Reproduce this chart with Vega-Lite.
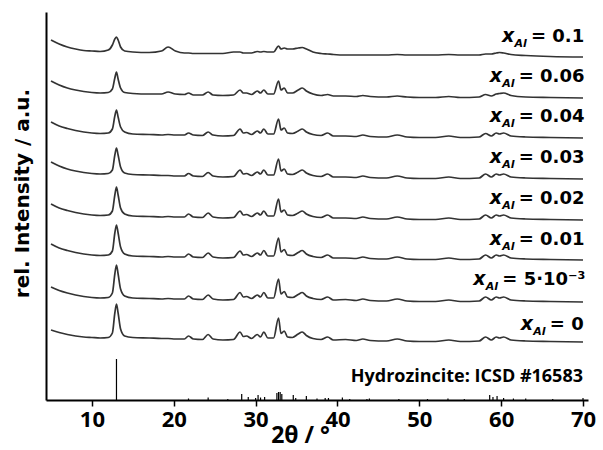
{
  "$schema": "https://vega.github.io/schema/vega-lite/v6.json",
  "width": 542,
  "height": 388,
  "autosize": "none",
  "padding": {"left": 46, "top": 12, "right": 15, "bottom": 50},
  "background": "white",
  "config": {"view": {"stroke": null}, "font": "DejaVu Sans"},
  "layer": [
    {
      "data": {"values": [
        {"x":5,"a":360,"b":319,"c":278,"d":238,"e":196,"f":156,"g":113,"h":70},
        {"x":6,"a":356,"b":315,"c":274,"d":234,"e":192,"f":152,"g":109.5,"h":67.5},
        {"x":7,"a":353,"b":312,"c":271.5,"d":231,"e":189.5,"f":149.5,"g":107,"h":65.5},
        {"x":8,"a":351,"b":310,"c":269.5,"d":229,"e":187.5,"f":147.5,"g":105,"h":64},
        {"x":9,"a":349.5,"b":308.5,"c":268,"d":227.5,"e":186,"f":146,"g":103.5,"h":63},
        {"x":10,"a":349,"b":307.5,"c":267,"d":226.5,"e":185,"f":145,"g":102.5,"h":62.5},
        {"x":11,"a":348.5,"b":307,"c":266.5,"d":226,"e":184.5,"f":144.5,"g":102,"h":62},
        {"x":12,"a":350,"b":307.5,"c":267,"d":226.5,"e":185,"f":145,"g":102.5,"h":62.5},
        {"x":12.5,"a":355,"b":311,"c":271,"d":230,"e":189,"f":149,"g":107,"h":67},
        {"x":12.8,"a":361,"b":322,"c":284,"d":245,"e":205,"f":167,"g":126,"h":87},
        {"x":13.0,"a":363,"b":328,"c":290,"d":252,"e":213,"f":175,"g":135,"h":96},
        {"x":13.2,"a":360,"b":321,"c":283,"d":245,"e":205,"f":167,"g":126,"h":87},
        {"x":13.5,"a":353,"b":312,"c":273,"d":233,"e":192,"f":153,"g":111,"h":71},
        {"x":14,"a":349,"b":307.5,"c":268,"d":227,"e":186,"f":146,"g":104,"h":64},
        {"x":15,"a":348,"b":306.5,"c":266,"d":225.5,"e":184,"f":144,"g":102,"h":62.5},
        {"x":17,"a":347.5,"b":306,"c":265.5,"d":225,"e":183.5,"f":143.5,"g":101.5,"h":62},
        {"x":18.5,"a":349,"b":306,"c":265,"d":224.5,"e":183,"f":143,"g":101,"h":61.5},
        {"x":19.3,"a":353,"b":308,"c":265.5,"d":224.5,"e":183.5,"f":143.5,"g":101.5,"h":61.5},
        {"x":20.2,"a":349,"b":306,"c":265,"d":224,"e":183,"f":143,"g":101,"h":61},
        {"x":21.3,"a":347,"b":305.5,"c":265,"d":224,"e":183,"f":143,"g":101,"h":61},
        {"x":21.8,"a":347,"b":307,"c":267,"d":226.5,"e":186,"f":146,"g":104,"h":64},
        {"x":22.4,"a":346.5,"b":305,"c":265,"d":224,"e":183,"f":143,"g":101,"h":61},
        {"x":23.5,"a":346.5,"b":305,"c":264.5,"d":223.5,"e":182.5,"f":142.5,"g":100.5,"h":60.5},
        {"x":24.2,"a":346.5,"b":308,"c":268,"d":227.5,"e":187,"f":147,"g":105,"h":65.5},
        {"x":24.8,"a":346.5,"b":305,"c":265,"d":224,"e":183,"f":143,"g":101,"h":61},
        {"x":26,"a":346.5,"b":304.5,"c":264,"d":223,"e":182,"f":142,"g":100,"h":60},
        {"x":27.3,"a":348,"b":305,"c":264.5,"d":223.5,"e":182.5,"f":142.5,"g":100.5,"h":60.5},
        {"x":28.1,"a":348,"b":310,"c":271,"d":230,"e":189,"f":149,"g":107.5,"h":68},
        {"x":28.5,"a":347,"b":307,"c":267,"d":226,"e":185,"f":145,"g":103,"h":63.5},
        {"x":28.9,"a":347,"b":307,"c":267.5,"d":226.5,"e":185.5,"f":145.5,"g":103.5,"h":64},
        {"x":29.5,"a":347,"b":305.5,"c":265.5,"d":224.5,"e":183.5,"f":143.5,"g":101.5,"h":61.5},
        {"x":30.2,"a":348.5,"b":309,"c":269,"d":228,"e":187,"f":147,"g":105,"h":65.5},
        {"x":30.6,"a":348,"b":307,"c":267,"d":226,"e":185,"f":145,"g":103,"h":63},
        {"x":31.0,"a":348.5,"b":310,"c":271,"d":230,"e":189,"f":149.5,"g":107.5,"h":68},
        {"x":31.5,"a":348,"b":306,"c":266,"d":225,"e":184,"f":144,"g":102,"h":62},
        {"x":32.2,"a":348,"b":306,"c":266,"d":225,"e":184,"f":144,"g":102,"h":62},
        {"x":32.8,"a":354,"b":319,"c":281,"d":241,"e":201,"f":162,"g":121,"h":82},
        {"x":33.1,"a":351,"b":310,"c":270,"d":229,"e":188,"f":148,"g":106,"h":66.5},
        {"x":33.5,"a":352,"b":312,"c":272,"d":231,"e":190,"f":150.5,"g":108.5,"h":69},
        {"x":33.9,"a":351,"b":307,"c":267,"d":226,"e":185,"f":145,"g":103,"h":63},
        {"x":34.5,"a":351,"b":307,"c":266.5,"d":225.5,"e":184.5,"f":144.5,"g":102.5,"h":62.5},
        {"x":35.2,"a":352,"b":310,"c":269,"d":228,"e":187,"f":147.5,"g":105.5,"h":66},
        {"x":35.7,"a":352.5,"b":312,"c":271,"d":230,"e":189,"f":149.5,"g":107.5,"h":68},
        {"x":36.2,"a":351,"b":309,"c":268,"d":227,"e":186,"f":146,"g":104,"h":64.5},
        {"x":37,"a":348,"b":306,"c":265.5,"d":224.5,"e":183.5,"f":143.5,"g":101.5,"h":61.5},
        {"x":38,"a":346.5,"b":304.5,"c":264.5,"d":223.5,"e":182.5,"f":142.5,"g":100.5,"h":60.5},
        {"x":38.8,"a":346,"b":305.5,"c":267,"d":226,"e":185,"f":145,"g":103,"h":63},
        {"x":39.5,"a":345.5,"b":304,"c":264,"d":223,"e":182,"f":142,"g":100,"h":60},
        {"x":41,"a":345,"b":304,"c":264,"d":223,"e":182,"f":142,"g":100.5,"h":60.5},
        {"x":42.3,"a":345,"b":303.5,"c":263.5,"d":222.5,"e":181.5,"f":141.5,"g":99.5,"h":59.5},
        {"x":43.1,"a":345,"b":304.5,"c":265,"d":224,"e":183,"f":143,"g":101,"h":61},
        {"x":44,"a":345,"b":303.5,"c":263.5,"d":222.5,"e":181.5,"f":141.5,"g":99.5,"h":59.5},
        {"x":46,"a":345,"b":303,"c":263,"d":222,"e":181,"f":141,"g":99,"h":59},
        {"x":47.3,"a":345.5,"b":304,"c":265,"d":224,"e":183,"f":143,"g":101,"h":61},
        {"x":48.5,"a":345,"b":303,"c":263,"d":222,"e":181,"f":141,"g":99,"h":59},
        {"x":50,"a":345,"b":302.5,"c":262.5,"d":221.5,"e":180.5,"f":140.5,"g":98.5,"h":58.5},
        {"x":52,"a":345,"b":302.5,"c":262.5,"d":221.5,"e":180.5,"f":140.5,"g":98.5,"h":58.5},
        {"x":53.6,"a":345.5,"b":303.5,"c":264,"d":223,"e":182,"f":142,"g":100,"h":60},
        {"x":55,"a":345,"b":302.5,"c":262.5,"d":221.5,"e":180.5,"f":140.5,"g":98.5,"h":58.5},
        {"x":57.3,"a":345,"b":303,"c":263,"d":222,"e":181,"f":141,"g":99,"h":59},
        {"x":58.1,"a":346,"b":305.5,"c":266.5,"d":226,"e":185,"f":145,"g":103,"h":63},
        {"x":58.8,"a":346,"b":304,"c":264,"d":223,"e":182,"f":142,"g":100,"h":60},
        {"x":59.4,"a":347,"b":306,"c":267,"d":226,"e":185,"f":145,"g":103,"h":63},
        {"x":59.8,"a":347.5,"b":306.5,"c":266,"d":225,"e":184,"f":144,"g":102,"h":62},
        {"x":60.3,"a":347,"b":307,"c":267,"d":226,"e":185,"f":145,"g":103,"h":63},
        {"x":61.2,"a":345.5,"b":304.5,"c":264,"d":223,"e":182,"f":142,"g":100,"h":60},
        {"x":63,"a":344.5,"b":303,"c":263,"d":222,"e":181,"f":141,"g":99,"h":59},
        {"x":66,"a":343.5,"b":302.5,"c":262.5,"d":221.5,"e":180.5,"f":140.5,"g":98.5,"h":58.5},
        {"x":70,"a":343,"b":302,"c":262,"d":221,"e":180,"f":140,"g":98,"h":58}
      ]},
      "transform": [{"fold": ["a","b","c","d","e","f","g","h"], "as": ["k","v"]}],
      "mark": {"type": "line", "color": "#333333", "strokeWidth": 1.7, "interpolate": "monotone"},
      "encoding": {
        "x": {"field": "x", "type": "quantitative",
          "scale": {"domain": [5, 70], "nice": false, "zero": false},
          "axis": {"values": [10,20,30,40,50,60,70], "title": "2θ / °", "grid": false,
            "domainColor": "black", "domainWidth": 2, "tickColor": "black", "tickWidth": 1.5, "tickSize": 6,
            "labelFont": "Open Sans", "labelFontSize": 22, "labelFontWeight": "bold", "labelColor": "black",
            "labelPadding": 3, "labelFlush": false, "labelOverlap": false, "labelBound": false,
            "titleFont": "Open Sans", "titleFontSize": 23, "titleFontWeight": "bold", "titleColor": "black",
            "titleX": 254, "titleY": 42, "titleBaseline": "alphabetic", "titleAlign": "center"}},
        "y": {"field": "v", "type": "quantitative",
          "scale": {"domain": [0, 388], "nice": false, "zero": false},
          "axis": {"title": "rel. Intensity / a.u.", "labels": false, "ticks": false, "grid": false,
            "domainColor": "black", "domainWidth": 2,
            "titleFont": "DejaVu Sans", "titleFontSize": 20, "titleFontWeight": "bold", "titleColor": "black",
            "titleX": -18, "titleY": 181, "titleAngle": -90, "titleBaseline": "alphabetic", "titleAlign": "center"}},
        "detail": {"field": "k", "type": "nominal"}
      }
    },
    {
      "data": {"values": [
        {"p":13.0,"i":41},{"p":21.8,"i":1.5},{"p":24.2,"i":2.5},{"p":26.6,"i":1},{"p":28.3,"i":6},
        {"p":29.1,"i":3},{"p":30.0,"i":2},{"p":30.3,"i":5},{"p":30.6,"i":2.5},{"p":31.1,"i":3},
        {"p":32.6,"i":7},{"p":32.8,"i":8},{"p":33.0,"i":8},{"p":33.2,"i":6},{"p":34.6,"i":5},
        {"p":34.9,"i":2},{"p":36.2,"i":4},{"p":37.5,"i":1.5},{"p":38.5,"i":2},{"p":38.9,"i":2},
        {"p":40.6,"i":2.5},{"p":41.5,"i":1},{"p":43.6,"i":1},{"p":43.9,"i":1.5},{"p":47.5,"i":1},
        {"p":51,"i":1},{"p":53.5,"i":1.5},{"p":55.5,"i":1},{"p":58.6,"i":5},{"p":59.0,"i":3},
        {"p":59.5,"i":4},{"p":60.3,"i":2},{"p":61.5,"i":1.5},{"p":63,"i":1.5},{"p":66.3,"i":1},{"p":70,"i":2}
      ]},
      "mark": {"type": "bar", "color": "black", "size": 1.2},
      "encoding": {
        "x": {"field": "p", "type": "quantitative"},
        "y": {"field": "i", "type": "quantitative"}
      }
    },
    {
      "data": {"values": [
        {"r": "= 0.1", "ly": 358, "xs": 60.1},
        {"r": "= 0.06", "ly": 318, "xs": 58.6},
        {"r": "= 0.04", "ly": 278, "xs": 58.6},
        {"r": "= 0.03", "ly": 237, "xs": 58.6},
        {"r": "= 0.02", "ly": 196, "xs": 58.6},
        {"r": "= 0.01", "ly": 155, "xs": 58.6},
        {"r": "= 5·10⁻³", "ly": 115, "xs": 56.6},
        {"r": "= 0", "ly": 70, "xs": 62.4}
      ]},
      "layer": [
        {"mark": {"type": "text", "align": "left", "baseline": "alphabetic", "font": "DejaVu Sans", "fontSize": 19, "fontWeight": "bold", "fontStyle": "italic", "color": "black"},
         "encoding": {"x": {"field": "xs", "type": "quantitative"}, "y": {"field": "ly", "type": "quantitative"}, "text": {"value": "x"}}},
        {"mark": {"type": "text", "align": "left", "baseline": "alphabetic", "dx": 12.5, "dy": 5, "font": "DejaVu Sans", "fontSize": 11, "fontWeight": "bold", "fontStyle": "italic", "color": "black"},
         "encoding": {"x": {"field": "xs", "type": "quantitative"}, "y": {"field": "ly", "type": "quantitative"}, "text": {"value": "Al"}}},
        {"mark": {"type": "text", "align": "left", "baseline": "alphabetic", "dx": 29, "font": "DejaVu Sans", "fontSize": 18, "fontWeight": "bold", "color": "black"},
         "encoding": {"x": {"field": "xs", "type": "quantitative"}, "y": {"field": "ly", "type": "quantitative"}, "text": {"field": "r", "type": "nominal"}}}
      ]
    },
    {
      "data": {"values": [{"t": "Hydrozincite: ICSD #16583", "px": 70, "py": 18.3}]},
      "mark": {"type": "text", "align": "right", "baseline": "alphabetic", "font": "Open Sans", "fontSize": 18, "fontWeight": "bold", "color": "black"},
      "encoding": {
        "x": {"field": "px", "type": "quantitative"},
        "y": {"field": "py", "type": "quantitative"},
        "text": {"field": "t", "type": "nominal"}
      }
    }
  ]
}
